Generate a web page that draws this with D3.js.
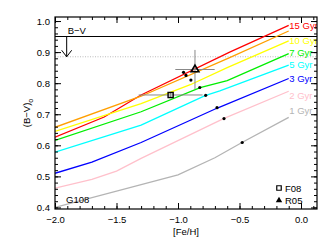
<!DOCTYPE html>
<html>
<head>
<meta charset="utf-8">
<script src="https://cdn.jsdelivr.net/npm/d3@7"></script>
<style>
  body { margin: 0; background: #fff; }
  svg { font-family: "Liberation Sans", Arial, sans-serif; }
</style>
</head>
<body>
<div class="chart"></div>
<script>
// isochrones: [Fe/H], (B-V)o
const iso15 = [[-2.0, 0.626], [-1.6, 0.691], [-1.3, 0.762], [-0.58, 0.900], [-0.1, 0.986]];
const iso12 = [[-2.0, 0.658], [-1.3, 0.758], [-0.58, 0.882], [-0.1, 0.968]];
const iso10 = [[-2.0, 0.645], [-1.3, 0.734], [-0.9, 0.795], [-0.6, 0.850], [-0.1, 0.936]];
const iso7 = [[-2.0, 0.616], [-1.3, 0.708], [-0.82, 0.786], [-0.6, 0.808], [-0.1, 0.895]];
const iso5 = [[-2.0, 0.578], [-1.3, 0.665], [-0.78, 0.760], [-0.66, 0.775], [-0.1, 0.858]];
const iso3 = [[-2.0, 0.510], [-1.7, 0.546], [-1.3, 0.609], [-0.68, 0.720], [-0.1, 0.815]];
const iso2 = [[-2.0, 0.462], [-1.7, 0.490], [-1.5, 0.517], [-1.3, 0.558], [-0.63, 0.686], [-0.1, 0.774]];
const iso1 = [[-2.0, 0.400], [-1.0, 0.505], [-0.7, 0.560], [-0.48, 0.609], [-0.1, 0.690]];

const isoNames = ["15 Gyr", "", "10 Gyr", "7 Gyr", "5 Gyr", "3 Gyr", "2 Gyr", "1 Gyr"];
const isoLabelAt = [0.986, null, 0.936, 0.897, 0.858, 0.815, 0.761, 0.712];

// G108 dots
const dotFeh = [-0.955, -0.935, -0.895, -0.823, -0.775, -0.683, -0.626, -0.478];
const dotBV = [0.835, 0.825, 0.810, 0.786, 0.761, 0.721, 0.686, 0.609];

// literature values: F08 (square) and R05 (triangle)
const f08 = {feh: -1.06, bv: 0.762, xerr: 0.26, yerr: 0.006};
const r05 = {feh: -0.862, bv: 0.844, xerr: 0.16, yerr: 0.063};

const bvLimit = 0.950;
const bvDotted = 0.885;

const xMajor = [-2.0, -1.5, -1.0, -0.5, 0.0];
const yMajor = [0.4, 0.5, 0.6, 0.7, 0.8, 0.9, 1.0];

const isos = [iso15, iso12, iso10, iso7, iso5, iso3, iso2, iso1];
const colors = ["#ff0000", "#ff9f00", "#ffff00", "#00ee00", "#00ffff", "#0000ff", "#ffc0cb", "#b4b4b4"];

const W = 333, H = 245;
const mLeft = 55, mRight = 317, mTop = 17, mBottom = 209;

const svg = d3.select(".chart").append("svg")
    .attr("width", W)
    .attr("height", H);

const x = d3.scaleLinear().domain([-2.0, 0.13]).range([mLeft, mRight]);
const y = d3.scaleLinear().domain([0.395, 1.013]).range([mBottom, mTop]);

svg.append("defs").append("clipPath").attr("id", "clip")
    .append("rect")
    .attr("x", mLeft).attr("y", mTop)
    .attr("width", mRight - mLeft).attr("height", mBottom - mTop);

const plot = svg.append("g").attr("clip-path", "url(#clip)");

// reference lines
plot.append("line")
    .attr("x1", mLeft).attr("x2", mRight)
    .attr("y1", y(bvDotted)).attr("y2", y(bvDotted))
    .attr("stroke", "#bbb").attr("stroke-dasharray", "1,1.5");

plot.append("line")
    .attr("x1", mLeft).attr("x2", mRight)
    .attr("y1", y(bvLimit)).attr("y2", y(bvLimit))
    .attr("stroke", "black").attr("stroke-width", 1.1);

// arrow
const ax = x(-1.905);
plot.append("path")
    .attr("d", `M${ax},${y(bvLimit)}V${y(bvDotted)}M${ax - 5},${y(bvDotted) - 6.5}L${ax},${y(bvDotted)}L${ax + 5},${y(bvDotted) - 6.5}`)
    .attr("fill", "none").attr("stroke", "black").attr("stroke-width", 1);

plot.append("text")
    .attr("x", ax + 1).attr("y", y(bvLimit) - 3)
    .attr("font-size", 9.5)
    .text("B\u2212V");

// isochrones
const line = d3.line().x(d => x(d[0])).y(d => y(d[1]));

plot.selectAll(".iso")
    .data(isos)
    .join("path")
    .attr("class", "iso")
    .attr("d", line)
    .attr("fill", "none")
    .attr("stroke", (d, i) => colors[i])
    .attr("stroke-width", 1.3);

plot.selectAll(".isolabel")
    .data(isoNames)
    .join("text")
    .attr("class", "isolabel")
    .attr("x", x(-0.095))
    .attr("y", (d, i) => isoLabelAt[i] == null ? 0 : y(isoLabelAt[i]))
    .attr("dy", "0.35em")
    .attr("font-size", 9.5)
    .attr("fill", (d, i) => colors[i])
    .text(d => d);

// error bars
[f08, r05].forEach(p => {
    plot.append("path")
        .attr("d", `M${x(p.feh - p.xerr)},${y(p.bv)}H${x(p.feh + p.xerr)}M${x(p.feh)},${y(p.bv - p.yerr)}V${y(p.bv + p.yerr)}`)
        .attr("stroke", "#888").attr("stroke-width", 1).attr("fill", "none");
});

// dots
plot.selectAll(".dot")
    .data(dotFeh)
    .join("circle")
    .attr("class", "dot")
    .attr("cx", d => x(d))
    .attr("cy", (d, i) => y(dotBV[i]))
    .attr("r", 1.6)
    .attr("fill", "black");

const sq = d3.symbol().type(d3.symbolSquare).size(26);
const tri = d3.symbol().type(d3.symbolTriangle).size(26);

plot.append("path")
    .attr("d", sq())
    .attr("transform", `translate(${x(f08.feh)},${y(f08.bv)})`)
    .attr("fill", "none").attr("stroke", "black").attr("stroke-width", 1.4);

plot.append("path")
    .attr("d", tri())
    .attr("transform", `translate(${x(r05.feh)},${y(r05.bv)})`)
    .attr("fill", "none").attr("stroke", "black").attr("stroke-width", 1.6);

// legend
svg.append("path")
    .attr("d", d3.symbol().type(d3.symbolSquare).size(20)())
    .attr("transform", "translate(279,188)")
    .attr("fill", "none").attr("stroke", "black").attr("stroke-width", 1.2);
svg.append("text").attr("x", 285).attr("y", 191.5).attr("font-size", 9.5).text("F08");

svg.append("path")
    .attr("d", d3.symbol().type(d3.symbolTriangle).size(18)())
    .attr("transform", "translate(279,200.5)")
    .attr("fill", "black");
svg.append("text").attr("x", 285).attr("y", 204).attr("font-size", 9.5).text("R05");

svg.append("text").attr("x", 66).attr("y", 202.5).attr("font-size", 9.5).text("G108");

// axes, ticks pointing inward on all sides
const xMinor = d3.range(-20, 2).map(d => d / 10);
const yMinor = d3.range(20, 51).map(d => d / 50);

function noDomain(g) { g.select(".domain").remove(); }

svg.append("g").attr("transform", `translate(0,${mBottom})`)
    .call(d3.axisBottom(x).tickValues(xMinor).tickSize(-3).tickFormat("")).call(noDomain);
svg.append("g").attr("transform", `translate(0,${mBottom})`)
    .call(d3.axisBottom(x).tickValues(xMajor).tickSize(-6).tickPadding(7)
        .tickFormat(d => d3.format(".1f")(d).replace("-", "\u2212")))
    .call(noDomain);
svg.append("g").attr("transform", `translate(0,${mTop})`)
    .call(d3.axisTop(x).tickValues(xMinor).tickSize(-3).tickFormat("")).call(noDomain);
svg.append("g").attr("transform", `translate(0,${mTop})`)
    .call(d3.axisTop(x).tickValues(xMajor).tickSize(-6).tickFormat("")).call(noDomain);

svg.append("g").attr("transform", `translate(${mLeft},0)`)
    .call(d3.axisLeft(y).tickValues(yMinor).tickSize(-3).tickFormat("")).call(noDomain);
svg.append("g").attr("transform", `translate(${mLeft},0)`)
    .call(d3.axisLeft(y).tickValues(yMajor).tickSize(-6).tickPadding(5).tickFormat(d3.format(".1f")))
    .call(noDomain);
svg.append("g").attr("transform", `translate(${mRight},0)`)
    .call(d3.axisRight(y).tickValues(yMinor).tickSize(-3).tickFormat("")).call(noDomain);
svg.append("g").attr("transform", `translate(${mRight},0)`)
    .call(d3.axisRight(y).tickValues(yMajor).tickSize(-6).tickFormat("")).call(noDomain);

svg.selectAll(".tick text")
    .attr("font-family", "Liberation Sans, Arial, sans-serif")
    .attr("font-size", 9.5)
    .attr("fill", "black");
svg.selectAll(".tick line").attr("stroke", "black");

svg.append("rect")
    .attr("x", mLeft).attr("y", mTop)
    .attr("width", mRight - mLeft).attr("height", mBottom - mTop)
    .attr("fill", "none").attr("stroke", "black").attr("stroke-width", 1.2);

// axis titles
svg.append("text")
    .attr("x", (mLeft + mRight) / 2).attr("y", 235)
    .attr("text-anchor", "middle").attr("font-size", 9.5)
    .text("[Fe/H]");

const yl = svg.append("text")
    .attr("transform", `translate(30,${(mTop + mBottom) / 2}) rotate(-90)`)
    .attr("text-anchor", "middle").attr("font-size", 9.5);
yl.append("tspan").text("(B\u2212V)");
yl.append("tspan").attr("font-size", 7).attr("dy", 2.5).text("o");
</script>
</body>
</html>
